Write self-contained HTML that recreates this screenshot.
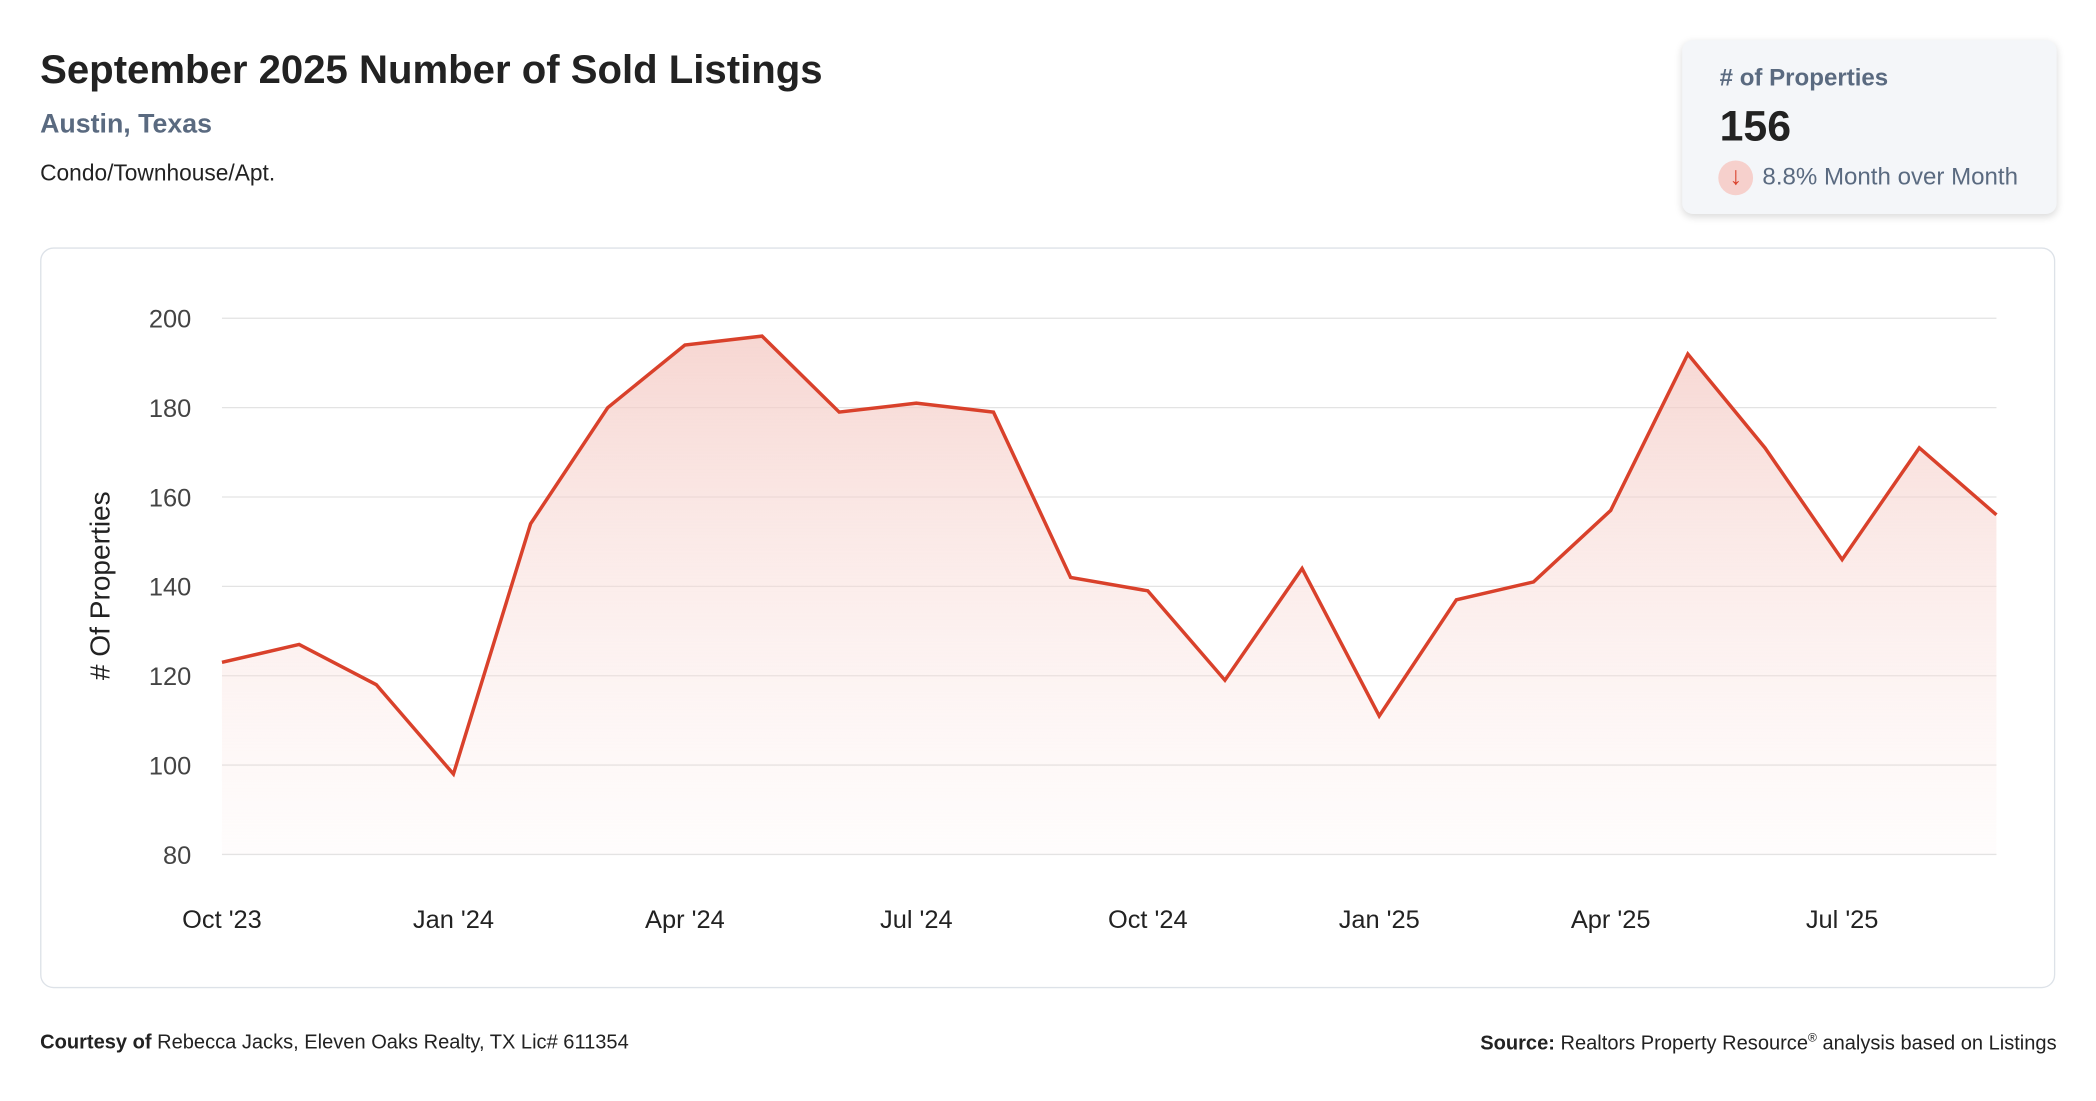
<!DOCTYPE html>
<html><head><meta charset="utf-8"><style>
html,body{margin:0;padding:0;background:#fff;overflow:hidden}
body{width:2096px;height:1100px}
#wrap{position:absolute;left:0;top:0;width:1568px;height:823px;transform:scale(1.3372);transform-origin:0 0;font-family:"Liberation Sans",sans-serif;color:#222}
.abs{position:absolute;white-space:nowrap}
</style></head><body>
<div id="wrap">
<div class="abs" style="left:30px;top:36px;font-size:30px;font-weight:bold;color:#222">September 2025 Number of Sold Listings</div>
<div class="abs" style="left:30px;top:82px;font-size:20px;font-weight:bold;color:#5a6a80">Austin, Texas</div>
<div class="abs" style="left:30px;top:120px;font-size:17px;color:#222">Condo/Townhouse/Apt.</div>
<div class="abs" style="left:1258px;top:30px;width:280px;height:130px;background:#f4f6f9;border-radius:8px;box-shadow:0 2px 6px rgba(0,0,0,0.15)">
 <div class="abs" style="left:28px;top:18px;font-size:18px;font-weight:bold;color:#5a6a80"># of Properties</div>
 <div class="abs" style="left:28px;top:46px;font-size:32px;font-weight:bold;color:#222">156</div>
 <div class="abs" style="left:27px;top:90px;width:26px;height:26px;border-radius:13px;background:#f6d0cc;color:#d9412b;font-size:19px;text-align:center;line-height:26px">↓</div>
 <div class="abs" style="left:60px;top:92px;font-size:18px;color:#5a6a80">8.8% Month over Month</div>
</div>
<div class="abs" style="left:30px;top:185px;width:1505px;height:552px;border:1px solid #dde2e8;border-radius:10px"></div>
<svg class="abs" id="chart" style="left:0;top:0" width="1568" height="823"></svg>
<div class="abs" style="left:30px;top:771px;font-size:15px;color:#222"><b>Courtesy of</b> Rebecca Jacks, Eleven Oaks Realty, TX Lic# 611354</div>
<div class="abs" style="right:30px;top:771px;font-size:15px;color:#222"><b>Source:</b> Realtors Property Resource<sup style="font-size:9px">®</sup> analysis based on Listings</div>
</div>
<script>
const months = ["Oct '23","Nov '23","Dec '23","Jan '24","Feb '24","Mar '24","Apr '24","May '24","Jun '24","Jul '24","Aug '24","Sep '24","Oct '24","Nov '24","Dec '24","Jan '25","Feb '25","Mar '25","Apr '25","May '25","Jun '25","Jul '25","Aug '25","Sep '25"];
const values = [123,127,118,98,154,180,194,196,179,181,179,142,139,119,144,111,137,141,157,192,171,146,171,156];
const yTicks = [80,100,120,140,160,180,200];
const xTickIdx = [0,3,6,9,12,15,18,21];

const NS="http://www.w3.org/2000/svg";
const svg=document.getElementById('chart');
const x0=166,x1=1493,y0=639,y1=238,ymin=80,ymax=200;
const xs=i=>x0+(x1-x0)*i/(months.length-1);
const ys=v=>y0-(v-ymin)/(ymax-ymin)*(y0-y1);
function mk(t,a){const e=document.createElementNS(NS,t);for(const k in a)e.setAttribute(k,a[k]);svg.appendChild(e);return e;}
const defs=mk('defs',{});
defs.innerHTML='<linearGradient id="g" x1="0" y1="0" x2="0" y2="1"><stop offset="0" stop-color="#f4c9c3" stop-opacity="0.75"/><stop offset="1" stop-color="#fbe5e2" stop-opacity="0.1"/></linearGradient>';
yTicks.forEach(v=>{
 const l=mk('line',{x1:x0,x2:x1,y1:ys(v),y2:ys(v),stroke:'#e3e3e3','stroke-width':1});
 
 
 const t=mk('text',{x:143,y:ys(v)+7,'text-anchor':'end','font-size':19,fill:'#444','font-family':'Liberation Sans, sans-serif'});
 t.textContent=v;
 
 
});
xTickIdx.forEach(i=>{
 const t=mk('text',{x:xs(i),y:694,'text-anchor':'middle','font-size':19,fill:'#222','font-family':'Liberation Sans, sans-serif'});
 t.textContent=months[i];
 
 
});
const yt=mk('text',{x:0,y:0,transform:'translate(82,438) rotate(-90)','text-anchor':'middle','font-size':21,fill:'#222','font-family':'Liberation Sans, sans-serif'});
yt.textContent='# Of Properties';


const pts=values.map((v,i)=>xs(i)+','+ys(v));
const area=mk('polygon',{points:x0+','+y0+' '+pts.join(' ')+' '+x1+','+y0,fill:'url(#g)'});


const line=mk('polyline',{points:pts.join(' '),fill:'none',stroke:'#d9412b','stroke-width':2.6,'stroke-linejoin':'miter'});


</script>
</body></html>
